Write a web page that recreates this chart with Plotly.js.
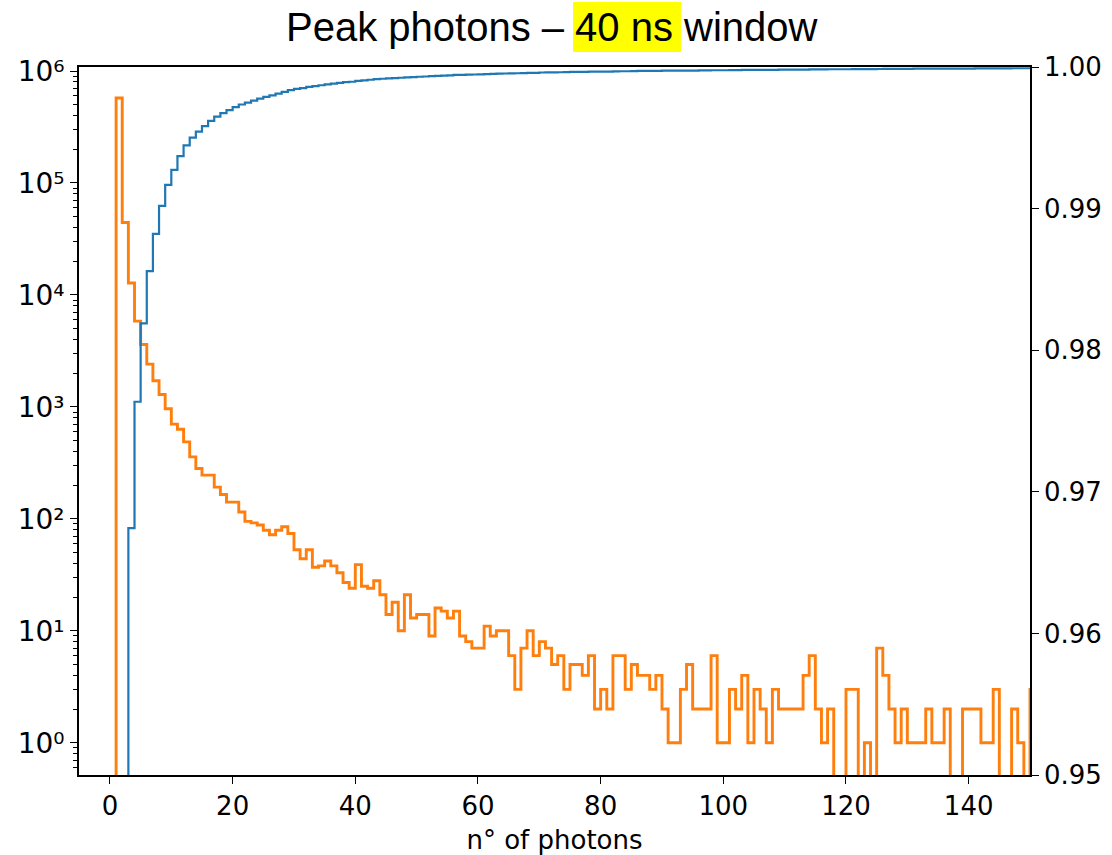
<!DOCTYPE html>
<html>
<head>
<meta charset="utf-8">
<script src="https://cdn.plot.ly/plotly-3.0.1.min.js"></script>
<style>html,body{margin:0;padding:0;background:#fff;}#chart{width:1112px;height:855px;}</style>
</head>
<body>
<div id="chart"></div>
<script>
// Bin left edges (n° of photons), bins of width 1
const binEdges = [1,2,3,4,5,6,7,8,9,10,11,12,13,14,15,16,17,18,19,20,21,22,23,24,25,26,27,28,29,30,
31,32,33,34,35,36,37,38,39,40,41,42,43,44,45,46,47,48,49,50,51,52,53,54,55,56,57,58,59,60,
61,62,63,64,65,66,67,68,69,70,71,72,73,74,75,76,77,78,79,80,81,82,83,84,85,86,87,88,89,90,
91,92,93,94,95,96,97,98,99,100,101,102,103,104,105,106,107,108,109,110,111,112,113,114,115,116,117,118,119,120,
121,122,123,124,125,126,127,128,129,130,131,132,133,134,135,136,137,138,139,140,141,142,143,144,145,146,147,148,149,150];
const lastEdge = 151;

// Orange: counts per bin (log left axis)
const counts = [574000,44300,12800,5830,3610,2410,1710,1290,964,701,
632,487,358,282,246,246,192,165,141,141,
115,95,92,88,79,72,79,85,74,53,
44,53,37,38,42,38,33,27,24,39,
25,24,28,21,14,18,10,21,13,14,
14,9,16,15,13,15,9,8,7,7,
11,9,10,10,6,3,7,10,6,8,
7,5,6,3,5,5,4,6,2,3,
2,6,6,3,5,4,4,3,4,2,
1,1,3,5,2,2,2,6,1,1,
3,2,4,1,3,2,1,3,2,2,
2,2,4,6,2,1,2,0,0,3,
3,0,1,0,7,4,2,1,2,1,
1,1,2,1,1,2,0,0,2,2,
2,1,1,3,0,0,2,1,0,3];

// Blue: cumulative fraction per bin (right axis)
const cumulative = [0.87990,0.94780,0.96743,0.97636,0.98190,0.98559,0.98821,0.99019,0.99167,0.99274,
0.99371,0.99446,0.99501,0.99544,0.99582,0.99619,0.99649,0.99674,0.99696,0.99717,
0.99735,0.99749,0.99763,0.99777,0.99789,0.99800,0.99812,0.99825,0.99837,0.99845,
0.99851,0.99860,0.99865,0.99871,0.99878,0.99883,0.99888,0.99893,0.99896,0.99902,
0.99906,0.99910,0.99914,0.99917,0.99919,0.99922,0.99924,0.99927,0.99929,0.99931,
0.99933,0.99935,0.99937,0.99939,0.99941,0.99944,0.99945,0.99946,0.99947,0.99948,
0.99950,0.99951,0.99953,0.99954,0.99955,0.99956,0.99957,0.99958,0.99959,0.99961,
0.99962,0.99962,0.99963,0.99964,0.99965,0.99965,0.99966,0.99967,0.99967,0.99968,
0.99968,0.99969,0.99970,0.99970,0.99971,0.99972,0.99972,0.99973,0.99973,0.99974,
0.99974,0.99974,0.99974,0.99975,0.99975,0.99976,0.99976,0.99977,0.99977,0.99977,
0.99978,0.99978,0.99979,0.99979,0.99979,0.99980,0.99980,0.99980,0.99981,0.99981,
0.99981,0.99981,0.99982,0.99983,0.99983,0.99983,0.99984,0.99984,0.99984,0.99984,
0.99985,0.99985,0.99985,0.99985,0.99986,0.99987,0.99987,0.99987,0.99987,0.99987,
0.99988,0.99988,0.99988,0.99988,0.99988,0.99989,0.99989,0.99989,0.99989,0.99989,
0.99990,0.99990,0.99990,0.99990,0.99990,0.99990,0.99991,0.99991,0.99991,0.99991];

const xTicks = [0,20,40,60,80,100,120,140];
const yTicks = [1,10,100,1000,10000,100000,1000000];
const yTickText = ['10⁰','10¹','10²','10³','10⁴','10⁵','10⁶'];
const y2Ticks = [0.95,0.96,0.97,0.98,0.99,1.00];
const y2TickText = ['0.95','0.96','0.97','0.98','0.99','1.00'];
const titleParts = ['Peak photons – ', '40 ns', ' window'];

// step-path builders (histtype="step")
const floorVal = 1e-3; // empty bins drop below the log axis
const stepX = [binEdges[0]].concat(binEdges, [lastEdge, lastEdge]);
const stepCounts = [floorVal].concat(counts.map(v => v > 0 ? v : floorVal), [counts[counts.length-1] > 0 ? counts[counts.length-1] : floorVal, floorVal]);
const cumX = binEdges.concat([lastEdge]);
const cumY = cumulative.concat([cumulative[cumulative.length-1]]);

// minor log ticks
const minorVals = [];
for (let d = -1; d <= 5; d++) for (let k = 2; k <= 9; k++) minorVals.push(k * Math.pow(10, d));

const tickFont = {family: 'DejaVu Sans', size: 26, color: '#000'};

const traces = [
  {x: stepX, y: stepCounts, type: 'scatter', mode: 'lines', line: {shape: 'hv', color: '#ff7f0e', width: 2.9}, yaxis: 'y', hoverinfo: 'skip'},
  {x: cumX, y: cumY, type: 'scatter', mode: 'lines', line: {shape: 'hv', color: '#1f77b4', width: 2.2}, yaxis: 'y2', hoverinfo: 'skip'}
];

const layout = {
  width: 1112, height: 855,
  margin: {l: 79, r: 82, t: 67, b: 80},
  paper_bgcolor: '#fff', plot_bgcolor: '#fff',
  showlegend: false,
  xaxis: {
    range: [-5.05, 150], tickvals: xTicks, ticks: 'outside', ticklen: 7, tickwidth: 1.4, tickcolor: '#000',
    showline: true, linecolor: '#000', linewidth: 1.6, mirror: true, showgrid: false, zeroline: false,
    tickfont: tickFont,
    title: {text: 'n° of photons', font: {family: 'DejaVu Sans', size: 26, color: '#000'}, standoff: 11}
  },
  yaxis: {
    type: 'log', range: [-0.288, 6.036], tickmode: 'array', tickvals: yTicks, ticktext: yTickText,
    ticks: 'outside', ticklen: 7, tickwidth: 1.4, tickcolor: '#000',
    minor: {tickmode: 'array', tickvals: minorVals, ticks: 'outside', ticklen: 4, tickwidth: 1.1, tickcolor: '#000', showgrid: false},
    showline: true, linecolor: '#000', linewidth: 1.6, showgrid: false, zeroline: false,
    tickfont: {family: 'DejaVu Sans', size: 28, color: '#000'}
  },
  yaxis2: {
    overlaying: 'y', side: 'right', range: [0.95, 1.0], tickmode: 'array', tickvals: y2Ticks, ticktext: y2TickText,
    ticks: 'outside', ticklen: 7, tickwidth: 1.4, tickcolor: '#000',
    showline: true, linecolor: '#000', linewidth: 1.6, showgrid: false, zeroline: false,
    tickfont: tickFont
  },
  shapes: [
    {type: 'rect', xref: 'paper', yref: 'paper', x0: 0.5195, x1: 0.633, y0: 1.0212, y1: 1.0918,
     fillcolor: '#ffff00', line: {width: 0}, layer: 'below'}
  ],
  annotations: [
    {xref: 'paper', yref: 'paper', x: 0.4975, y: 1.0565, xanchor: 'center', yanchor: 'middle', showarrow: false,
     text: titleParts.join(''), font: {family: 'Liberation Sans', size: 40, color: '#000'}}
  ]
};

Plotly.newPlot('chart', traces, layout, {displayModeBar: false});
</script>
</body>
</html>
